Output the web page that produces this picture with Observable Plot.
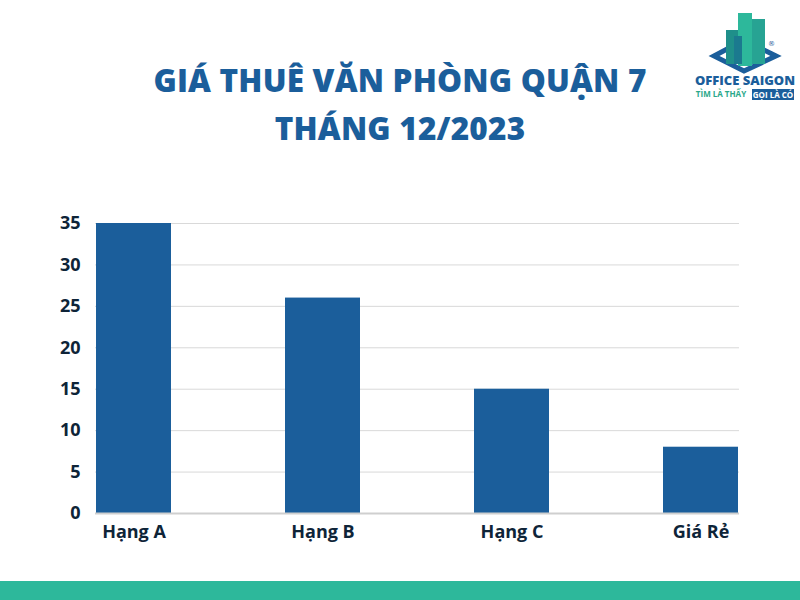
<!DOCTYPE html>
<html>
<head>
<meta charset="utf-8">
<script src="https://cdn.jsdelivr.net/npm/d3@7"></script>
<script src="https://cdn.jsdelivr.net/npm/@observablehq/plot@0.6"></script>
<style>
  html, body { margin: 0; padding: 0; background: #fff; }
  #wrap { position: relative; width: 800px; height: 600px; overflow: hidden; font-family: "Open Sans", sans-serif; }
  #title { position: absolute; left: 0; top: 56px; width: 800px; text-align: center; color: #1b5e9b;
           font-weight: 800; font-size: 31.5px; line-height: 48px; letter-spacing: 0.2px; }
  #chart { position: absolute; left: 0; top: 190px; }
  #band { position: absolute; left: 0; top: 581px; width: 800px; height: 19px; background: #2db89b; }
  #logo { position: absolute; left: 690px; top: 4px; }
</style>
</head>
<body>
<div id="wrap">
  <div id="title">GIÁ THUÊ VĂN PHÒNG QUẬN 7<br>THÁNG 12/2023</div>
  <svg id="logo" width="110" height="98" viewBox="0 0 110 98">
    <polygon points="24,52 54,36 86,52 54,67" fill="none" stroke="#1b5e9b" stroke-width="5"/>
    <rect x="36" y="26" width="12" height="34" fill="#1f8f8a"/>
    <rect x="48" y="9" width="14" height="53" fill="#2db89b"/>
    <rect x="62" y="15" width="13" height="45" fill="#27a393"/>
    <rect x="44" y="32" width="8" height="28" fill="#1b7a8f"/>
    <text x="78" y="42" font-size="7" fill="#1b5e9b" font-family="DejaVu Sans">®</text>
    <text x="55" y="81" text-anchor="middle" font-family="Open Sans" font-weight="800" font-size="13" fill="#1b5e9b">OFFICE SAIGON</text>
    <text x="31" y="93" text-anchor="middle" font-family="Open Sans" font-weight="700" font-size="8" fill="#2aa88a">TÌM LÀ THẤY</text>
    <rect x="62" y="85" width="42" height="11" fill="#1b5e9b"/>
    <text x="83" y="93.5" text-anchor="middle" font-family="Open Sans" font-weight="700" font-size="8" fill="#fff">GỌI LÀ CÓ</text>
  </svg>
  <div id="chart"></div>
  <div id="band"></div>
</div>
<script>
const categories = ["Hạng A", "Hạng B", "Hạng C", "Giá Rẻ"];
const values = [35, 26, 15, 8];
const yTicks = [0, 5, 10, 15, 20, 25, 30, 35];

const data = categories.map((c, i) => ({category: c, value: values[i]}));

const chart = Plot.plot({
  width: 800,
  height: 380,
  marginTop: 33,
  marginBottom: 57,
  marginLeft: 95,
  marginRight: 61,
  style: {fontFamily: "Open Sans", fontSize: "18px", fontWeight: 700, color: "#0e2438", background: "transparent"},
  x: {domain: categories, paddingInner: 0.605, paddingOuter: 0, label: null, tickSize: 0, tickPadding: 12},
  y: {domain: [0, 35], ticks: yTicks, label: null, tickSize: 0, tickPadding: 15},
  marks: [
    Plot.gridY(yTicks.filter(d => d > 0), {stroke: "#d9d9d9", strokeOpacity: 1, strokeWidth: 1}),
    Plot.barY(data, {x: "category", y: "value", fill: "#1b5e9b"}),
    Plot.ruleY([0], {stroke: "#cfcfcf", strokeWidth: 2}),
    Plot.axisY({ticks: yTicks, tickSize: 0, tickPadding: 15, label: null, fontSize: 18, fontWeight: 700}),
    Plot.axisX({tickSize: 0, tickPadding: 12, label: null, fontSize: 18, fontWeight: 700})
  ]
});
document.getElementById("chart").appendChild(chart);
</script>
</body>
</html>
